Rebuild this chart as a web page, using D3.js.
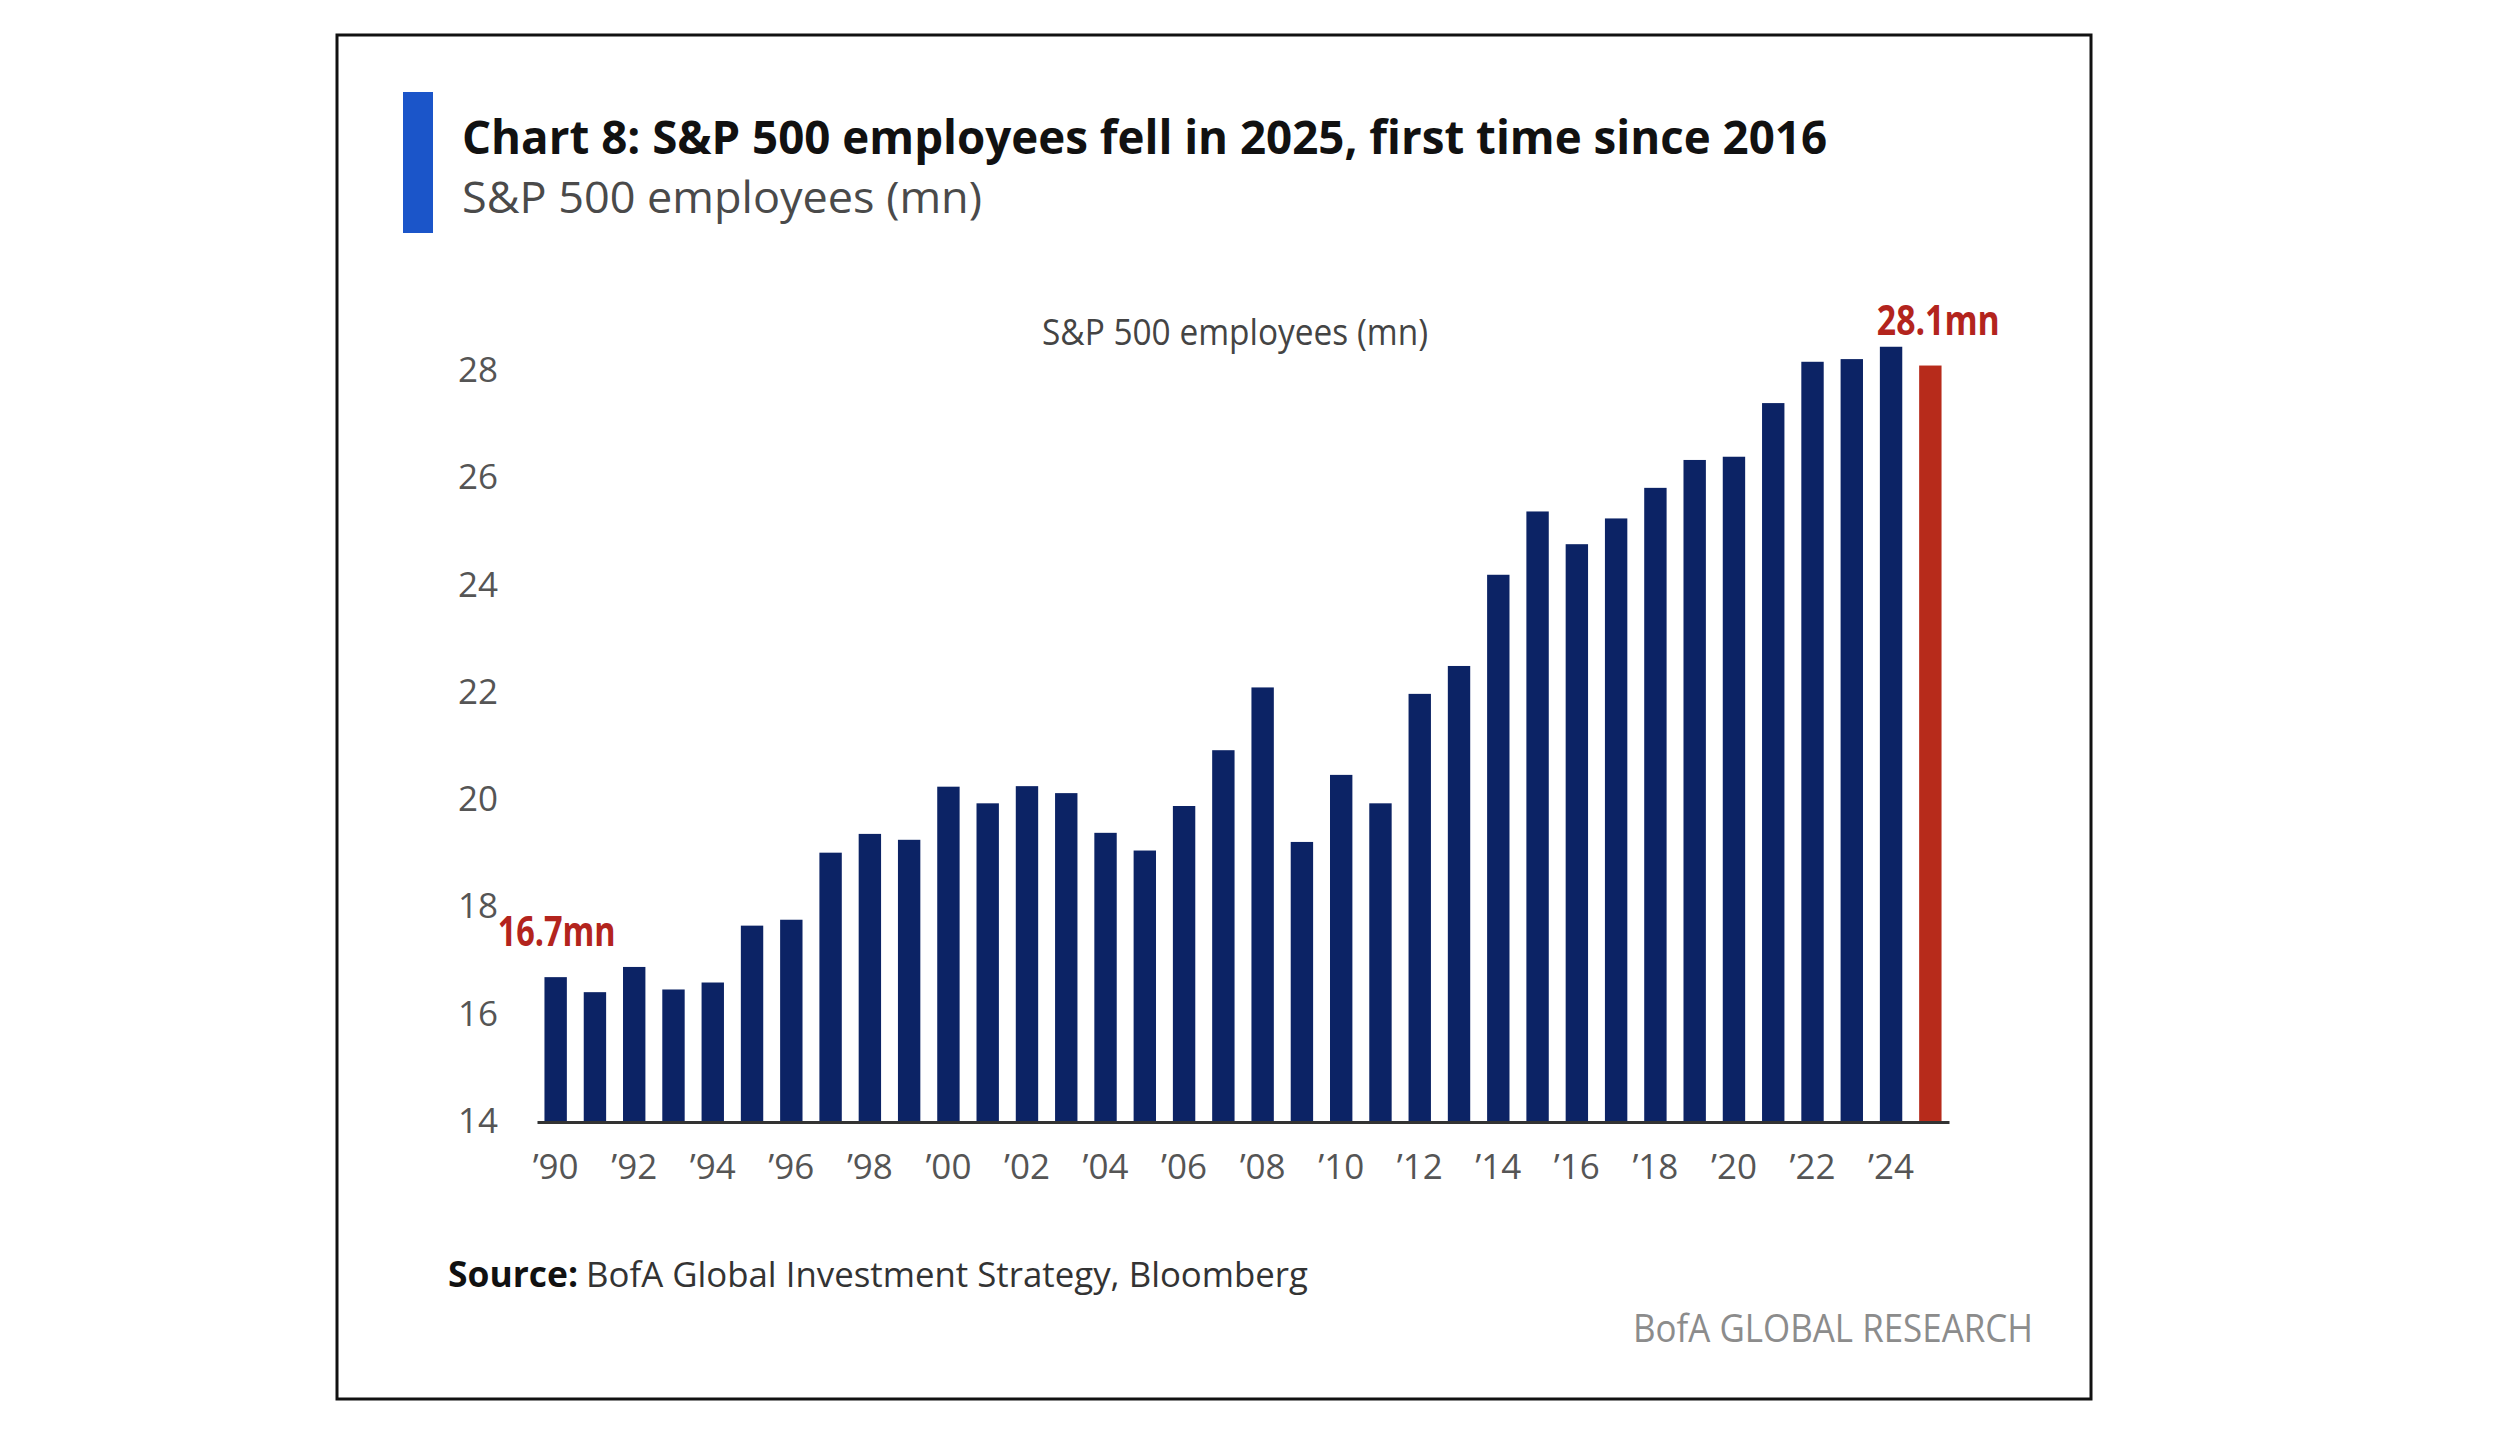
<!DOCTYPE html>
<html>
<head>
<meta charset="utf-8">
<script src="https://cdn.jsdelivr.net/npm/d3@7"></script>
<style>
  html, body { margin: 0; padding: 0; background: #fff; }
  svg text { font-family: "Open Sans", "Noto Sans", sans-serif; }
</style>
</head>
<body>
<div id="chart"></div>
<script>
// data
const years = ["1990", "1991", "1992", "1993", "1994", "1995", "1996", "1997", "1998", "1999",
  "2000", "2001", "2002", "2003", "2004", "2005", "2006", "2007", "2008", "2009",
  "2010", "2011", "2012", "2013", "2014", "2015", "2016", "2017", "2018", "2019",
  "2020", "2021", "2022", "2023", "2024", "2025"];
const employees = [16.7, 16.42, 16.89, 16.47, 16.6, 17.66, 17.77, 19.02, 19.37, 19.26,
  20.25, 19.94, 20.26, 20.13, 19.39, 19.06, 19.89, 20.93, 22.1, 19.22,
  20.47, 19.94, 21.98, 22.5, 24.2, 25.38, 24.77, 25.25, 25.82, 26.34,
  26.4, 27.4, 28.17, 28.22, 28.45, 28.1];
const yTicks = [14, 16, 18, 20, 22, 24, 26, 28];
const xTickYears = ["1990", "1992", "1994", "1996", "1998", "2000", "2002", "2004", "2006",
  "2008", "2010", "2012", "2014", "2016", "2018", "2020", "2022", "2024"];
const labelledYears = ["1990", "2025"];
const highlightYear = "2025";

const titleText = "Chart 8: S&P 500 employees fell in 2025, first time since 2016";
const subtitleText = "S&P 500 employees (mn)";
const seriesName = "S&P 500 employees (mn)";

const width = 2500;
const height = 1431;

const colors = {
  bar: "#0c2365",
  highlight: "#b72b1b",
  label: "#b3241d",
  accent: "#1b55c9",
  text: "#111",
  grey: "#555"
};

const data = years.map((y, i) => ({ year: y, value: employees[i] }));

const svg = d3.select("#chart")
  .append("svg")
  .attr("width", width)
  .attr("height", height);

// squeeze text to the width it has in the picture
function fit(sel, w) {
  sel.attr("textLength", w).attr("lengthAdjust", "spacingAndGlyphs");
  return sel;
}

// frame
svg.append("rect")
  .attr("x", 337)
  .attr("y", 35)
  .attr("width", 1754)
  .attr("height", 1364)
  .attr("fill", "none")
  .attr("stroke", "#111")
  .attr("stroke-width", 3);

// header
svg.append("rect")
  .attr("x", 403)
  .attr("y", 92)
  .attr("width", 30)
  .attr("height", 141)
  .attr("fill", colors.accent);

fit(svg.append("text")
  .attr("x", 462)
  .attr("y", 154)
  .attr("font-size", 47)
  .attr("font-weight", 700)
  .attr("fill", colors.text)
  .text(titleText), 1365);

fit(svg.append("text")
  .attr("x", 462)
  .attr("y", 213)
  .attr("font-size", 43)
  .attr("fill", "#4a4a4a")
  .text(subtitleText), 520);

// scales
const x = d3.scaleBand()
  .domain(years)
  .range([537, 1949])
  .paddingInner(0.43)
  .paddingOuter(0.19);

const y = d3.scaleLinear()
  .domain([14, 28])
  .range([1122, 370.9]);

// series name above plot
fit(svg.append("text")
  .attr("x", 1235)
  .attr("y", 345)
  .attr("text-anchor", "middle")
  .attr("font-size", 37)
  .attr("fill", "#444")
  .text(seriesName), 386);

// bars
svg.append("g")
  .selectAll("rect")
  .data(data)
  .join("rect")
  .attr("x", d => x(d.year))
  .attr("y", d => y(d.value))
  .attr("width", x.bandwidth())
  .attr("height", d => y(14) - y(d.value))
  .attr("fill", d => d.year === highlightYear ? colors.highlight : colors.bar);

// y axis: labels only
const yAxis = svg.append("g")
  .attr("transform", `translate(${x.range()[0]},0)`)
  .call(d3.axisLeft(y).tickValues(yTicks).tickSize(0).tickPadding(39));
yAxis.select(".domain").remove();
yAxis.selectAll("text")
  .attr("font-size", 35)
  .attr("fill", colors.grey)
  .attr("dy", "0.3em")
  .style("font-family", null);

// x axis
const xAxis = svg.append("g")
  .attr("transform", `translate(0,${y(14)})`)
  .call(d3.axisBottom(x)
    .tickValues(xTickYears)
    .tickFormat(d => "\u2019" + d.slice(2))
    .tickSize(0)
    .tickSizeOuter(0)
    .tickPadding(32));
xAxis.select(".domain")
  .attr("stroke", "#333")
  .attr("stroke-width", 3);
xAxis.selectAll("text")
  .attr("font-size", 35)
  .attr("fill", colors.grey)
  .style("font-family", null);

// value labels
svg.append("g")
  .selectAll("text")
  .data(data.filter(d => labelledYears.includes(d.year)))
  .join("text")
  .attr("x", d => x(d.year) + x.bandwidth() / 2 + (d.year === highlightYear ? 8 : 1))
  .attr("y", d => y(d.value) - 31)
  .attr("text-anchor", "middle")
  .attr("font-size", 41)
  .attr("font-weight", 700)
  .attr("fill", colors.label)
  .attr("textLength", d => d.year === highlightYear ? 123 : 118)
  .attr("lengthAdjust", "spacingAndGlyphs")
  .text(d => d.value.toFixed(1) + "mn");

// footer
fit(svg.append("text")
  .attr("x", 448)
  .attr("y", 1287)
  .attr("font-size", 35)
  .attr("font-weight", 700)
  .attr("fill", colors.text)
  .text("Source:"), 130);

fit(svg.append("text")
  .attr("x", 586)
  .attr("y", 1287)
  .attr("font-size", 35)
  .attr("fill", "#333")
  .text("BofA Global Investment Strategy, Bloomberg"), 722);

fit(svg.append("text")
  .attr("x", 1633)
  .attr("y", 1342)
  .attr("font-size", 39)
  .attr("fill", "#8c8c8c")
  .text("BofA GLOBAL RESEARCH"), 400);
</script>
</body>
</html>
